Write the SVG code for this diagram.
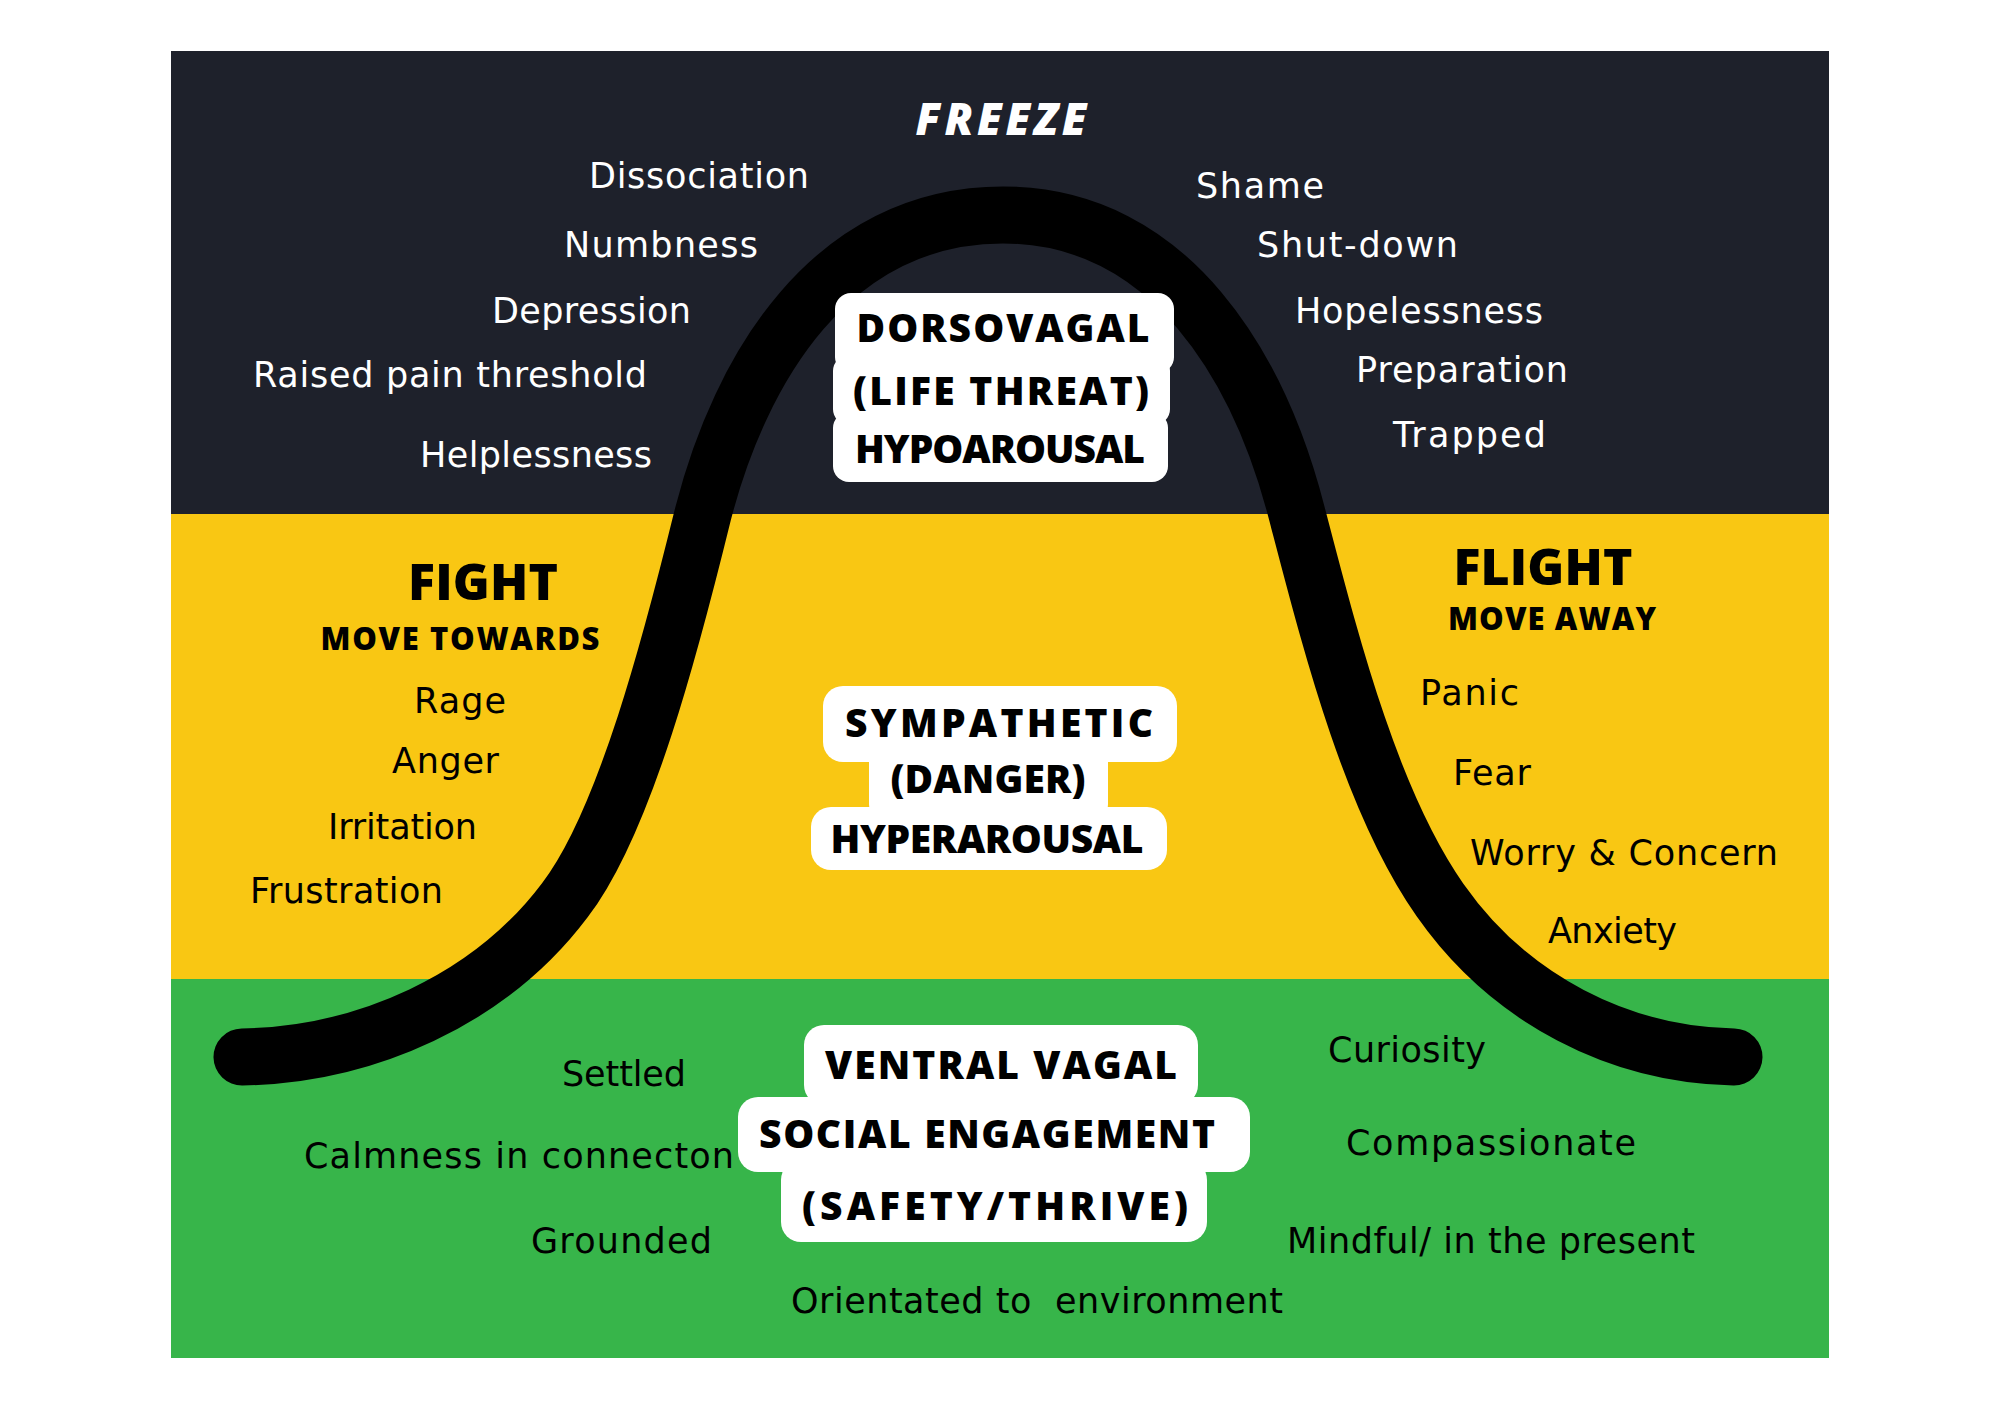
<svg xmlns="http://www.w3.org/2000/svg" width="2000" height="1414" viewBox="0 0 2000 1414">
<style>
.lbl{font-family:"DejaVu Sans","Open Sans","Liberation Sans",sans-serif;font-size:35px;font-weight:400}
.w{fill:#ffffff}
.k{fill:#000000}
.hd{font-family:"Open Sans","Noto Sans","Liberation Sans",sans-serif;font-weight:800;fill:#000000;text-anchor:middle}
.box{fill:#ffffff}
</style>
<rect width="2000" height="1414" fill="#ffffff"/>
<g id="bands">
<rect x="171" y="51" width="1658" height="463" fill="#1e212b"/>
<rect x="171" y="514" width="1658" height="465" fill="#f9c713"/>
<rect x="171" y="979" width="1658" height="379" fill="#37b54a"/>
</g>
<g id="connectors">
<path d="M242,1057 C365,1055 490,1000 565,900 C625,822 672,640 703,514 C740,370 830,215 1003,215 C1172,215 1260,370 1297,514 C1330,640 1370,800 1440,900 C1510,1000 1620,1055 1734,1057" fill="none" stroke="#000000" stroke-width="57" stroke-linecap="round" stroke-linejoin="round"/>
</g>
<g id="freeze">
<text class="hd" x="1001" y="135" font-size="44" style="fill:#ffffff;font-style:italic" textLength="171">FREEZE</text>
</g>
<g id="fight">
<text class="hd" x="483" y="600" font-size="50" textLength="150">FIGHT</text>
<text class="hd" x="460" y="650" font-size="31" textLength="279">MOVE TOWARDS</text>
</g>
<g id="flight">
<text class="hd" x="1543" y="585" font-size="50" textLength="179">FLIGHT</text>
<text class="hd" x="1552" y="630" font-size="31" textLength="208">MOVE AWAY</text>
</g>
<g id="dorsovagal">
<rect class="box" x="835" y="293" width="339" height="80" rx="16"/>
<rect class="box" x="833" y="355" width="337" height="70" rx="16"/>
<rect class="box" x="833" y="412" width="335" height="70" rx="16"/>
<text class="hd" x="1003" y="342" font-size="39" textLength="293">DORSOVAGAL</text>
<text class="hd" x="1001" y="405" font-size="39" textLength="296">(LIFE THREAT)</text>
<text class="hd" x="1000" y="463" font-size="39" textLength="290">HYPOAROUSAL</text>
</g>
<g id="sympathetic">
<rect class="box" x="823" y="686" width="354" height="76" rx="20"/>
<rect class="box" x="869" y="740" width="239" height="80" rx="16"/>
<rect class="box" x="811" y="807" width="356" height="63" rx="20"/>
<text class="hd" x="999" y="737" font-size="39" textLength="308">SYMPATHETIC</text>
<text class="hd" x="988" y="793" font-size="39" textLength="195">(DANGER)</text>
<text class="hd" x="987" y="853" font-size="39" textLength="313">HYPERAROUSAL</text>
</g>
<g id="ventral">
<rect class="box" x="804" y="1025" width="394" height="80" rx="20"/>
<rect class="box" x="738" y="1097" width="512" height="75" rx="20"/>
<rect class="box" x="781" y="1160" width="426" height="82" rx="20"/>
<text class="hd" x="1001" y="1079" font-size="39" textLength="352">VENTRAL VAGAL</text>
<text class="hd" x="987" y="1148" font-size="39" textLength="456">SOCIAL ENGAGEMENT</text>
<text class="hd" x="995" y="1220" font-size="39" textLength="386">(SAFETY/THRIVE)</text>
</g>
<g id="freeze-labels" class="lbl w">
<text x="589" y="188" textLength="220">Dissociation</text>
<text x="564" y="257" textLength="194">Numbness</text>
<text x="492" y="323" textLength="199">Depression</text>
<text x="253" y="387" textLength="394">Raised pain threshold</text>
<text x="420" y="467" textLength="232">Helplessness</text>
<text x="1196" y="198" textLength="128">Shame</text>
<text x="1257" y="257" textLength="201">Shut-down</text>
<text x="1295" y="323" textLength="248">Hopelessness</text>
<text x="1356" y="382" textLength="212">Preparation</text>
<text x="1393" y="447" textLength="153">Trapped</text>
</g>
<g id="fight-labels" class="lbl k">
<text x="414" y="713" textLength="92">Rage</text>
<text x="392" y="773" textLength="107">Anger</text>
<text x="328" y="839" textLength="149">Irritation</text>
<text x="250" y="903" textLength="193">Frustration</text>
</g>
<g id="flight-labels" class="lbl k">
<text x="1420" y="705" textLength="99">Panic</text>
<text x="1453" y="785" textLength="78">Fear</text>
<text x="1470" y="865" textLength="308">Worry &amp; Concern</text>
<text x="1548" y="943" textLength="129">Anxiety</text>
</g>
<g id="ventral-labels" class="lbl k">
<text x="562" y="1086" textLength="124">Settled</text>
<text x="304" y="1168" textLength="430">Calmness in connecton</text>
<text x="531" y="1253" textLength="181">Grounded</text>
<text x="791" y="1313" textLength="492" style="white-space:pre">Orientated to  environment</text>
<text x="1328" y="1062" textLength="158">Curiosity</text>
<text x="1346" y="1155" textLength="290">Compassionate</text>
<text x="1287" y="1253" textLength="408">Mindful/ in the present</text>
</g>
</svg>
